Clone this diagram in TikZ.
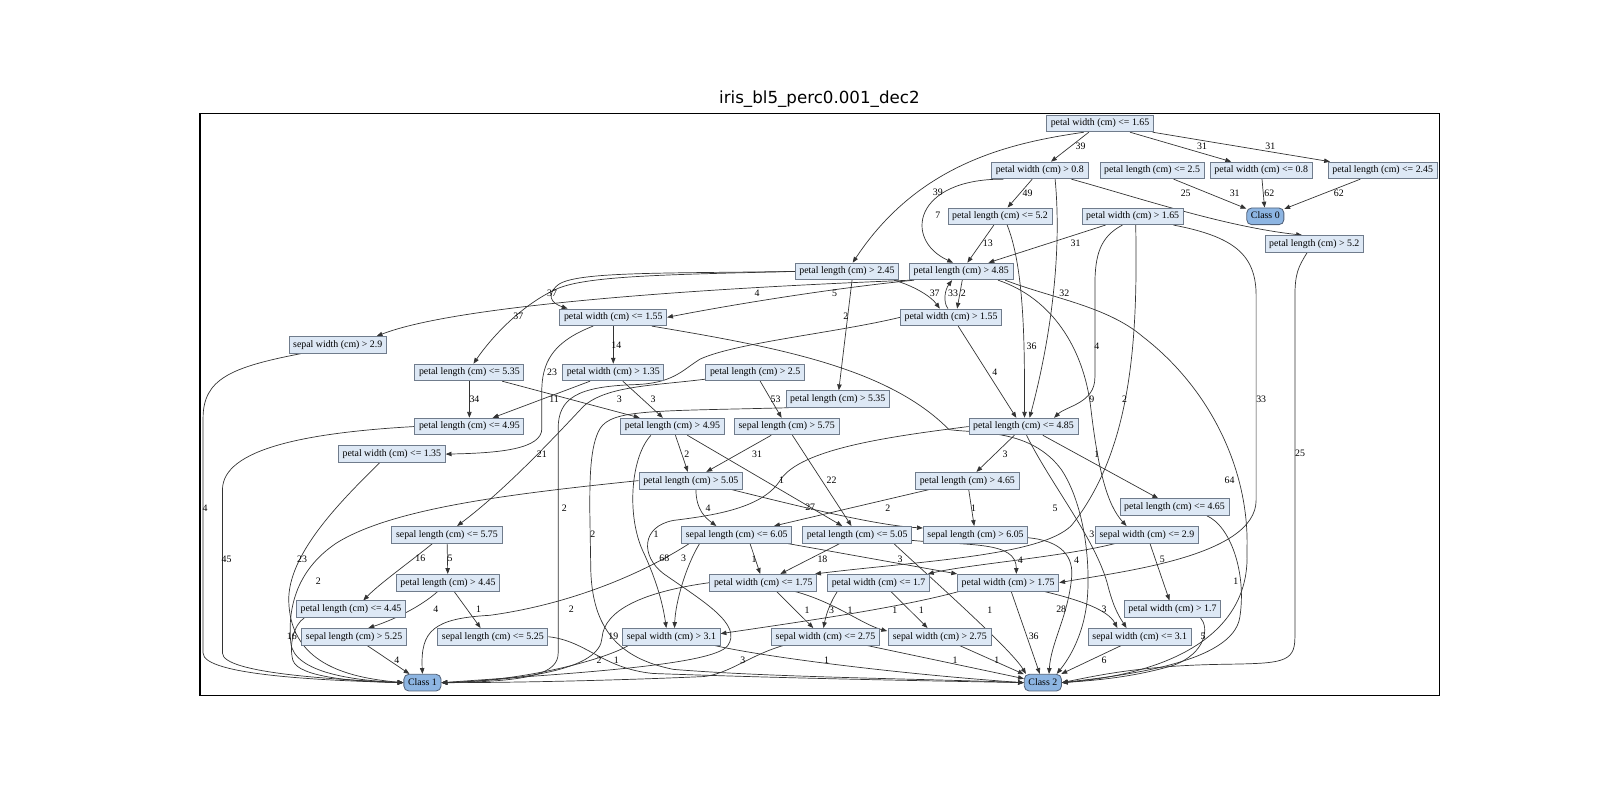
\documentclass[tikz,border=0pt]{standalone}
\usepackage{fontspec}
\setmainfont{Liberation Serif}
\newfontfamily\titlefont{DejaVu Sans}
\usetikzlibrary{arrows.meta,calc,backgrounds}
\definecolor{condfill}{RGB}{221,232,245}
\definecolor{condline}{RGB}{112,124,140}
\definecolor{classfill}{RGB}{141,181,226}
\definecolor{classline}{RGB}{80,96,120}
\tikzset{
  cond/.style={draw=condline, fill=condfill, line width=0.6pt, inner xsep=3pt, inner ysep=0pt,
    minimum height=12pt, text height=5pt, text depth=1.5pt, font=\fontsize{7.1}{8}\selectfont},
  leaf/.style={cond, draw=classline, fill=classfill, rounded corners=3.5pt},
  lbl/.style={inner sep=0.5pt, font=\fontsize{7.1}{8}\selectfont},
  link/.style={draw=black!80, line width=0.5pt, -{Triangle[length=4.2pt,width=3.2pt]}},
}

\begin{document}
\begin{tikzpicture}[x=0.7347pt, y=-0.7347pt]
\useasboundingbox (0,0) rectangle (1568,784);

% Title and frame
\node[font=\titlefont\fontsize{12}{14}\selectfont] (title) at (803,97) {iris\_bl5\_perc0.001\_dec2};
\draw[line width=0.75pt] (196,111) rectangle (1411,682);

% Step 1: split nodes
\foreach \nm/\x/\y/\txt in {
  pwLe165/1078/121/petal width (cm) <= 1.65,
  pwGt08/1019/167/petal width (cm) > 0.8,
  plLe25/1129/167/petal length (cm) <= 2.5,
  pwLe08/1236/167/petal width (cm) <= 0.8,
  plLe245/1355/167/petal length (cm) <= 2.45,
  plLe52/980/212/petal length (cm) <= 5.2,
  pwGt165/1110/212/petal width (cm) > 1.65,
  plGt52/1288/239/petal length (cm) > 5.2,
  plGt245/830/266/petal length (cm) > 2.45,
  plGt485/942/266/petal length (cm) > 4.85,
  pwLe155/601/311/petal width (cm) <= 1.55,
  pwGt155/932/311/petal width (cm) > 1.55,
  swGt29/331/338/sepal width (cm) > 2.9,
  plLe535/460/365/petal length (cm) <= 5.35,
  pwGt135/601/365/petal width (cm) > 1.35,
  plGt25/740/365/petal length (cm) > 2.5,
  plGt535/821/391/petal length (cm) > 5.35,
  plLe495/460/418/petal length (cm) <= 4.95,
  plGt495/659/418/petal length (cm) > 4.95,
  slGt575/771/418/sepal length (cm) > 5.75,
  plLe485/1003/418/petal length (cm) <= 4.85,
  pwLe135/384/445/petal width (cm) <= 1.35,
  plGt505/677/471/petal length (cm) > 5.05,
  plGt465/948/471/petal length (cm) > 4.65,
  plLe465/1151/497/petal length (cm) <= 4.65,
  slLe575/438/524/sepal length (cm) <= 5.75,
  slLe605/722/524/sepal length (cm) <= 6.05,
  plLe505/840/524/petal length (cm) <= 5.05,
  slGt605/956/524/sepal length (cm) > 6.05,
  swLe29/1124/524/sepal width (cm) <= 2.9,
  plGt445/439/571/petal length (cm) > 4.45,
  pwLe175/748/571/petal width (cm) <= 1.75,
  pwLe17/861/571/petal width (cm) <= 1.7,
  pwGt175/988/571/petal width (cm) > 1.75,
  pwGt17/1149/597/petal width (cm) > 1.7,
  plLe445/344/597/petal length (cm) <= 4.45,
  slGt525/347/624/sepal length (cm) > 5.25,
  slLe525/483/624/sepal length (cm) <= 5.25,
  swGt31/658/624/sepal width (cm) > 3.1,
  swLe275/809/624/sepal width (cm) <= 2.75,
  swGt275/921/624/sepal width (cm) > 2.75,
  swLe31/1117/624/sepal width (cm) <= 3.1}
  \node[cond] (\nm) at (\x,\y) {\txt};

% Step 2: class nodes
\node[leaf] (cls0) at (1240,212) {Class 0};
\node[leaf] (cls1) at (414,669) {Class 1};
\node[leaf] (cls2) at (1022,669) {Class 2};

% Step 3: edge counts
\foreach \x/\y/\t [count=\i] in {
  1059/143/39, 1178/143/31, 1245/143/31, 919/188/39, 919/211/7, 1007/189/49, 1162/189/25,
  1210/189/31, 1244/189/62, 1312/189/62, 968/238/13, 1054/238/31, 1043/287/32, 1011/339/36,
  1075/339/4, 1102/391/2, 1236/391/33, 1070/391/9, 1205/471/64, 1274/444/25,
  541/287/37, 508/310/37, 742/287/4, 818/287/5, 916/287/37, 934/287/33, 944/287/2, 829/310/2,
  604/338/14, 541/365/23, 975/365/4, 465/391/34, 607/391/3, 640/391/3, 543/391/11, 760/391/53,
  531/445/21, 553/498/2, 581/524/2, 201/498/4, 222/548/45, 296/548/23, 312/570/2,
  673/445/2, 766/471/1, 742/445/31, 815/471/22, 985/445/3, 1075/445/1, 1034/498/5, 1070/524/3,
  694/498/4, 794/497/27, 870/498/2, 954/498/1,
  739/548/1, 806/548/18, 882/548/3, 1000/549/4, 1055/549/4, 1139/548/5, 1040/597/28,
  412/547/16, 441/547/5, 427/597/4, 469/597/1, 286/624/16, 389/647/4,
  643/524/1, 651/547/68, 670/547/3, 560/597/2, 601/624/19,
  791/598/1, 815/598/3, 833/598/1, 877/598/1, 903/598/1, 970/598/1, 1082/597/3, 1211/570/1,
  1013/624/36, 1179/624/5, 587/647/2, 604/647/1, 728/647/3, 810/647/1, 936/647/1, 977/647/1,
  1082/647/6}
  \node[lbl] (lab\i) at (\x,\y) {\t};

% Step 4: connectors, kept under the boxes
\begin{pgfonlayer}{background}
\foreach \a/\b in {pwLe165/pwGt08, pwLe165/pwLe08, pwLe165/plLe245, plLe25/cls0, pwLe08/cls0,
  plLe245/cls0, pwGt08/plLe52, plLe52/plGt485, pwGt165/plGt485, pwLe155/pwGt135,
  pwGt135/plLe495, pwGt135/plGt495, plLe535/plLe495, plLe535/plGt495, plGt25/slGt575,
  plGt495/plGt505, plGt495/plLe505, slGt575/plGt505, slGt575/plLe505, plLe485/plGt465,
  plGt465/slLe605, plGt465/slGt605, plLe505/pwLe175, slLe575/plGt445, pwGt175/cls2,
  swLe31/cls2, swGt275/cls2, swLe275/cls2, swLe29/pwGt17, slGt525/cls1}
  \draw[link] (\a) -- (\b);

% upper part
\draw[link] ($(pwLe165.south west)+(37,0)$) .. controls (990,140) and (900,160) .. (plGt245);
\draw[link] ($(pwGt08.south west)+(12,0)$) .. controls (895,175) and (885,235) .. ($(plGt485.north)+(-8,0)$);
\draw[link] (pwGt08) .. controls (1120,195) and (1200,222) .. ($(plGt52.north)+(-12,0)$);
\draw[link] ($(pwGt08.south)+(15,0)$) .. controls (1042,260) and (1025,350) .. ($(plLe485.north)+(6,0)$);
\draw[link] ($(plLe52.south)+(7,0)$) .. controls (1005,265) and (1004,350) .. ($(plLe485.north)+(1,0)$);
\draw[link] ($(pwGt165.south)+(-10,0)$) .. controls (1078,232) and (1073,250) .. (1073,280)
  -- (1073,370) .. controls (1073,395) and (1045,398) .. ($(plLe485.north)+(30,0)$);
\draw[link] ($(pwGt165.south)+(3,0)$) .. controls (1115,330) and (1110,440) .. (1050,515)
  .. controls (1020,545) and (900,550) .. ($(pwLe175.north east)+(-2,0)$);
\draw[link] ($(pwGt165.south east)+(-10,0)$) .. controls (1210,232) and (1231,250) .. (1231,290)
  -- (1231,490) .. controls (1231,545) and (1100,560) .. (pwGt175.east);
\draw[link] ($(plGt52.south)+(-7,0)$) .. controls (1272,262) and (1269,268) .. (1269,292)
  -- (1269,625) .. controls (1269,650) and (1255,650) .. (1200,651)
  .. controls (1120,652) and (1075,662) .. (cls2.east);

% fan out of petal length > 2.45 and > 4.85
\draw[link] (plGt245.west) .. controls (650,268) and (565,266) .. (547,279)
  .. controls (535,289) and (540,297) .. ($(pwLe155.north west)+(8,0)$);
\draw[link] (plGt245.west) .. controls (660,269) and (575,270) .. (546,283)
  .. controls (512,298) and (482,330) .. ($(plLe535.north)+(4,0)$);
\draw[link] ($(plGt245.south east)+(-5,0)$) .. controls (895,280) and (912,290) .. ($(pwGt155.north)+(-11,0)$);
\draw[link] ($(pwGt155.north)+(-3,0)$) .. controls (924,296) and (926,284) .. ($(plGt485.south)+(-9,0)$);
\draw[link] ($(plGt485.south)+(1,0)$) -- ($(pwGt155.north)+(6,0)$);
\draw[link] ($(plGt245.south)+(5,0)$) -- ($(plGt535.north)+(1,0)$);
\draw[link] ($(plGt485.south west)+(5,0)$) .. controls (820,282) and (720,298) .. (pwLe155.east);
\draw[link] ($(plGt485.south west)+(2,0)$) .. controls (700,282) and (450,298) .. ($(swGt29.north east)+(-10,0)$);
\draw[link] ($(plGt485.south east)+(-8,0)$) .. controls (1030,292) and (1085,300) .. (1120,330)
  .. controls (1185,380) and (1225,460) .. (1222,540) .. controls (1226,620) and (1150,660) .. (cls2.east);
\draw[link] ($(plGt485.south east)+(-15,0)$) .. controls (1030,292) and (1062,340) .. (1069,400)
  .. controls (1076,460) and (1085,495) .. ($(swLe29.north)+(-20,0)$);

% petal width <= 1.55 and > 1.55
\draw[link] ($(pwLe155.south west)+(33,0)$) .. controls (547,333) and (532,350) .. (531,380)
  -- (531,420) .. controls (531,440) and (490,444) .. (pwLe135.east);
\draw[link] ($(pwLe155.south east)+(-15,0)$) .. controls (760,340) and (870,360) .. (930,421)
  .. controls (960,425) and (1010,420) .. (1040,460) .. controls (1060,490) and (1068,540) .. (1066,580)
  .. controls (1064,620) and (1048,645) .. ($(cls2.north east)+(-5,0)$);
\draw[link] ($(pwGt155.south)+(7,0)$) -- ($(plLe485.north)+(-7,0)$);
\draw[link] (pwGt155.west) .. controls (820,326) and (720,336) .. (686,352)
  .. controls (668,363) and (660,376) .. (620,377) .. controls (566,379) and (547,390) .. (547,420)
  -- (547,640) .. controls (547,660) and (520,668) .. (cls1.east);
\draw[link] ($(plGt25.south west)+(0,-2)$) .. controls (640,378) and (595,378) .. (572,398)
  .. controls (540,432) and (495,480) .. ($(slLe575.north)+(10,0)$);

% left column into Class 1
\draw[link] ($(swGt29.south west)+(12,0)$) .. controls (225,360) and (199,372) .. (199,410)
  -- (199,640) .. controls (199,662) and (320,667) .. (cls1.west);
\draw[link] (plLe495.west) .. controls (300,424) and (218,440) .. (218,480)
  -- (218,640) .. controls (218,660) and (330,666) .. (cls1.west);
\draw[link] ($(pwLe135.south)+(-12,0)$) .. controls (335,490) and (285,540) .. (283,585)
  .. controls (282,650) and (340,664) .. (cls1.west);
\draw[link] (plGt505.west) .. controls (500,484) and (385,498) .. (330,532)
  .. controls (288,560) and (282,600) .. (285,630) .. controls (288,660) and (350,667) .. (cls1.west);
\draw[link] ($(plLe445.south west)+(8,0)$) .. controls (288,612) and (283,632) .. (287,647)
  .. controls (292,664) and (350,668) .. (cls1.west);
\draw[link] ($(slLe575.south)+(-14,0)$) .. controls (400,552) and (372,572) .. ($(plLe445.north)+(12,0)$);
\draw[link] ($(plGt445.south)+(-10,0)$) .. controls (412,595) and (384,608) .. ($(slGt525.north)+(14,0)$);
\draw[link] ($(plGt445.south)+(6,0)$) -- ($(slLe525.north)+(-12,0)$);

% middle rows
\draw[link] ($(plLe485.south)+(19,0)$) -- ($(plLe465.north)+(-16,0)$);
\draw[link] ($(plLe485.south)+(3,0)$) .. controls (1030,475) and (1075,530) .. (1086,575)
  .. controls (1092,598) and (1098,606) .. ($(swLe31.north)+(-13,0)$);
\draw[link] ($(plGt505.south)+(5,0)$) .. controls (682,500) and (692,508) .. ($(slLe605.north)+(-20,0)$);
\draw[link] ($(plGt505.south east)+(-12,0)$) .. controls (790,498) and (860,515) .. ($(slGt605.north west)+(0,2)$);
\draw[link] ($(slLe605.south)+(13,0)$) -- ($(pwLe175.north)+(-3,0)$);
\draw[link] ($(slLe605.south east)+(-5,0)$) -- (pwGt175.north west);
\draw[link] ($(plLe505.south east)+(0,-3)$) .. controls (950,535) and (996,530) .. ($(pwGt175.north)+(8,0)$);
\draw[link] ($(swLe29.south west)+(20,0)$) .. controls (1040,546) and (950,553) .. ($(pwLe17.north east)+(-2,0)$);
\draw[link] ($(pwGt175.south east)+(-15,0)$) .. controls (1050,586) and (1085,596) .. ($(swLe31.north)+(-22,0)$);
\draw[link] ($(pwLe17.south west)+(10,0)$) .. controls (815,588) and (810,600) .. ($(swLe275.north)+(-2,0)$);
\draw[link] ($(pwLe17.south)+(12,0)$) -- ($(swGt275.north)+(-12,0)$);
\draw[link] ($(pwLe175.south)+(13,0)$) -- ($(swLe275.north)+(-12,0)$);
\draw[link] ($(pwLe175.south east)+(-22,0)$) .. controls (818,590) and (845,612) .. ($(swGt275.north west)+(-1,3)$);
\draw[link] ($(pwGt175.south west)+(2,0)$) .. controls (880,596) and (780,610) .. ($(swGt31.east)+(0,-3)$);

% lower part, into Class 1 and Class 2
\draw[link] ($(plGt495.south west)+(30,0)$) .. controls (618,448) and (614,505) .. (630,540)
  .. controls (645,572) and (650,595) .. ($(swGt31.north)+(-5,0)$);
\draw[link] (plLe485.west) .. controls (870,428) and (785,440) .. (765,470)
  .. controls (748,498) and (700,505) .. (660,510) .. controls (628,516) and (628,545) .. (650,562)
  .. controls (690,590) and (728,612) .. (713,633) .. controls (698,652) and (560,660) .. (cls1.east);
\draw[link] ($(slLe605.south west)+(18,0)$) .. controls (672,555) and (662,590) .. ($(swGt31.north)+(3,0)$);
\draw[link] ($(slLe605.south west)+(8,0)$) .. controls (630,562) and (560,592) .. (480,603)
  .. controls (425,606) and (412,618) .. (cls1.north);
\draw[link] (pwLe175.west) .. controls (630,580) and (592,598) .. (590,625)
  .. controls (588,655) and (520,666) .. (cls1.east);
\draw[link] ($(plGt535.south west)+(3,0)$) .. controls (640,403) and (600,401) .. (588,420)
  .. controls (578,437) and (578,470) .. (578,500) -- (579,560)
  .. controls (581,615) and (605,645) .. (660,656) .. controls (760,664) and (900,665) .. (cls2.west);
\draw[link] ($(swGt31.south west)+(6,0)$) .. controls (595,645) and (520,667) .. (cls1.east);
\draw[link] ($(swGt31.south east)+(-6,0)$) .. controls (760,646) and (900,662) .. (cls2.west);
\draw[link] (slLe525.east) .. controls (575,628) and (590,655) .. (640,660)
  .. controls (780,665) and (900,667) .. (cls2.west);
\draw[link] ($(swLe275.south west)+(12,0)$) .. controls (735,642) and (715,660) .. (690,663)
  .. controls (600,667) and (500,669) .. (cls1.east);
\draw[link] ($(plLe505.south east)+(-18,0)$) .. controls (905,560) and (990,635) .. ($(cls2.north west)+(2,0)$);
\draw[link] ($(pwGt17.south east)+(-20,0)$) .. controls (1185,615) and (1182,640) .. (1150,652)
  .. controls (1110,664) and (1070,667) .. (cls2.east);
\draw[link] ($(plLe465.south east)+(-22,0)$) .. controls (1205,515) and (1222,560) .. (1215,605)
  .. controls (1208,650) and (1100,662) .. (cls2.east);
\draw[link] ($(slGt605.east)+(0,3)$) .. controls (1040,530) and (1053,545) .. (1050,568)
  .. controls (1046,605) and (1030,630) .. ($(cls2.north)+(6,0)$);
\end{pgfonlayer}
\end{tikzpicture}
\end{document}
